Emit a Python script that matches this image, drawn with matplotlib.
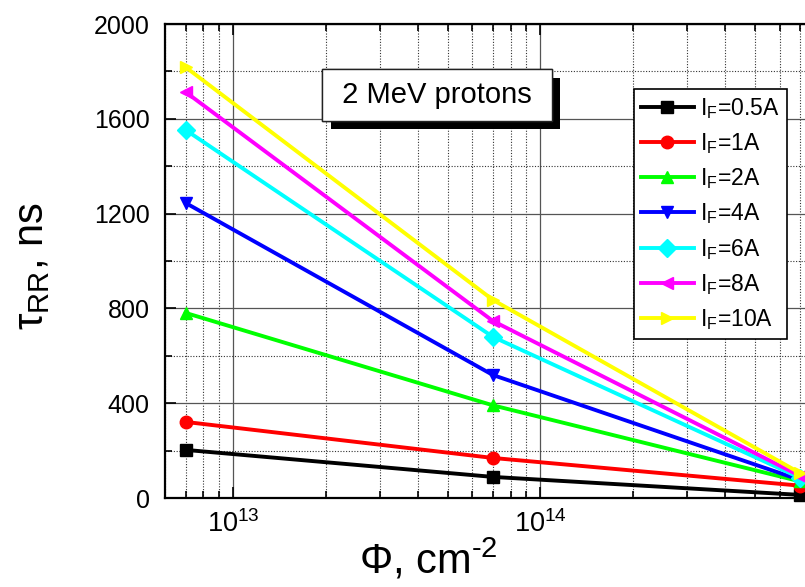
import matplotlib
matplotlib.use("Agg")
import matplotlib.pyplot as plt
import matplotlib.patheffects as pe
from matplotlib.ticker import FixedLocator, LogLocator, NullFormatter, MultipleLocator

plt.rcParams['font.family'] = ['Liberation Sans', 'DejaVu Sans']
plt.rcParams['mathtext.fontset'] = 'custom'
plt.rcParams['mathtext.rm'] = 'Liberation Sans'
plt.rcParams['mathtext.it'] = 'Liberation Sans:italic'
plt.rcParams['mathtext.bf'] = 'Liberation Sans:bold'

# Data
fluence = [7e12, 7e13, 7e14]
labels = ['0.5A', '1A', '2A', '4A', '6A', '8A', '10A']
t_05 = [203, 89, 13]
t_1 = [321, 169, 52]
t_2 = [781, 391, 70]
t_4 = [1245, 519, 76]
t_6 = [1553, 680, 85]
t_8 = [1713, 747, 93]
t_10 = [1818, 836, 105]
series = [t_05, t_1, t_2, t_4, t_6, t_8, t_10]
colors = ['#000000', '#FF0000', '#00FF00', '#0000FF', '#00FFFF', '#FF00FF', '#FFFF00']
markers = ['s', 'o', '^', 'v', 'D', '<', '>']

fig = plt.figure(figsize=(8.05, 5.87), dpi=100)
ax = fig.add_axes([165 / 805, 1 - 498 / 587, 653 / 805, 474 / 587])

for vals, lab, c, m in zip(series, labels, colors, markers):
    ax.plot(fluence, vals, color=c, marker=m, markersize=9, lw=2.8,
            label=r'I$_\mathrm{F}$=' + lab, clip_on=False, zorder=3)

ax.set_xscale('log')
ax.set_xlim(6e12, 8e14)
ax.set_ylim(0, 2000)

ax.xaxis.set_major_locator(FixedLocator([1e13, 1e14]))
ax.set_xticklabels([r'$10^{13}$', r'$10^{14}$'])
ax.xaxis.set_minor_locator(LogLocator(base=10, subs=range(2, 10), numticks=20))
ax.xaxis.set_minor_formatter(NullFormatter())
ax.yaxis.set_major_locator(MultipleLocator(400))
ax.yaxis.set_minor_locator(MultipleLocator(200))

# Axis styling
for s in ax.spines.values():
    s.set_linewidth(1.6)
ax.tick_params(which='both', direction='in', top=True, right=False, width=1.2)
ax.tick_params(which='major', length=8)
ax.tick_params(which='minor', length=5)
ax.tick_params(axis='y', labelsize=18, pad=11)
ax.tick_params(axis='x', labelsize=19.5, pad=9)
ax.set_axisbelow(True)
ax.grid(True, which='major', color='#555555', lw=0.9, ls='-')
ax.grid(True, which='minor', color='#333333', lw=0.8, ls=(0, (1, 1.5)))

fig.text(32 / 805, 1 - 266 / 587, r'τ$_\mathrm{RR}$, ns', rotation=90,
         ha='center', va='center', fontsize=30)
fig.text(428 / 805, 1 - 560 / 587, r'Φ, cm$^{\text{-}2}$', ha='center', va='center',
         fontsize=30)

t = fig.text(437 / 805, 1 - 95 / 587, ' 2 MeV protons ', ha='center', va='center',
             fontsize=21,
             bbox=dict(boxstyle='square,pad=0.4', facecolor='white',
                       edgecolor='#222222', lw=1))
t.get_bbox_patch().set_path_effects([
    pe.withSimplePatchShadow(offset=(6, -6), shadow_rgbFace='black', alpha=1.0),
    pe.Normal()])

leg = ax.legend(loc='upper left', bbox_to_anchor=(634 / 805, 1 - 89 / 587),
                bbox_transform=fig.transFigure, borderaxespad=0, fontsize=16.5,
                fancybox=False, framealpha=1, edgecolor='black',
                handlelength=2.3, handletextpad=0.3, labelspacing=0.45,
                borderpad=0.3)
leg.get_frame().set_linewidth(1.2)

fig.savefig('out.png', dpi=100)
